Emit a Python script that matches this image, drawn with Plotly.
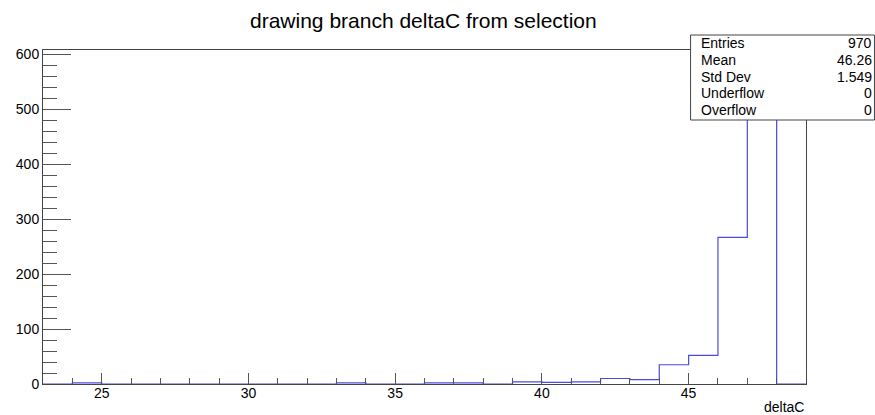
import plotly.graph_objects as go

# Histogram of deltaC: 1-unit bins from 23 to 49
bin_edges = list(range(23, 50))
counts = [0, 2, 0, 0, 0, 0, 0, 0, 0, 0, 2, 0, 0, 2, 2, 0, 4, 3, 4, 10, 8, 35, 52, 267, 579, 0]

stat_labels = ["Entries", "Mean", "Std Dev", "Underflow", "Overflow"]
stat_values = ["970", "46.26", "1.549", "0", "0"]

title_text = "drawing branch deltaC from selection"
x_title = "deltaC"

W, H = 875, 415
L, R, T, B = 42.5, 806, 50, 384  # plot frame in pixels

FONT = "Liberation Sans, Arial, Helvetica, sans-serif"

def px(x):
    return (x - L) / (R - L)

def py(y):
    return (B - y) / (B - T)

ymax = max(counts) * 1.05

fig = go.Figure()
fig.add_trace(go.Scatter(
    x=bin_edges,
    y=counts + [counts[-1]],
    mode="lines",
    line=dict(shape="hv", color="#4a4ae0", width=1.2),
    hoverinfo="skip",
    showlegend=False,
))

axis_common = dict(
    showgrid=False, zeroline=False, showline=True, mirror=True,
    linecolor="#444444", linewidth=1, ticks="inside",
    tickcolor="#555555", tickwidth=1,
    tickfont=dict(family=FONT, size=14, color="black"),
)

fig.update_xaxes(
    range=[bin_edges[0], bin_edges[-1]], tick0=25, dtick=5, ticklen=11,
    minor=dict(dtick=1, tick0=25, ticklen=6, ticks="inside", tickcolor="#555555", showgrid=False),
    ticklabelstandoff=-4,
    **axis_common,
)
fig.update_yaxes(
    range=[0, ymax], tick0=0, dtick=100, ticklen=28,
    minor=dict(dtick=20, tick0=0, ticklen=14, ticks="inside", tickcolor="#555555", showgrid=False),
    ticklabelstandoff=0,
    **axis_common,
)

shapes = [
    dict(type="rect", xref="paper", yref="paper",
         x0=px(690.5), x1=px(874.5), y0=py(120), y1=py(35),
         line=dict(color="#444444", width=1), fillcolor="white", layer="above"),
]

annotations = [
    dict(text=title_text, xref="paper", yref="paper", x=px(423), y=py(20),
         xanchor="center", yanchor="middle", showarrow=False,
         font=dict(family=FONT, size=21, color="black")),
    dict(text=x_title, xref="paper", yref="paper", x=px(806), y=py(407),
         xanchor="right", yanchor="middle", showarrow=False,
         font=dict(family=FONT, size=14, color="black")),
]

row_y = [43.5, 60.2, 76.8, 93.4, 110]
for lab, val, yy in zip(stat_labels, stat_values, row_y):
    annotations.append(dict(text=lab, xref="paper", yref="paper", x=px(699), y=py(yy),
                            xanchor="left", yanchor="middle", showarrow=False,
                            font=dict(family=FONT, size=14, color="black")))
    annotations.append(dict(text=val, xref="paper", yref="paper", x=px(874), y=py(yy),
                            xanchor="right", yanchor="middle", showarrow=False,
                            font=dict(family=FONT, size=14, color="black")))

fig.update_layout(
    width=W, height=H,
    margin=dict(l=L, r=W - R, t=T, b=H - B, pad=0),
    paper_bgcolor="white", plot_bgcolor="white",
    shapes=shapes, annotations=annotations,
    showlegend=False,
)

fig.write_html("out.html")
